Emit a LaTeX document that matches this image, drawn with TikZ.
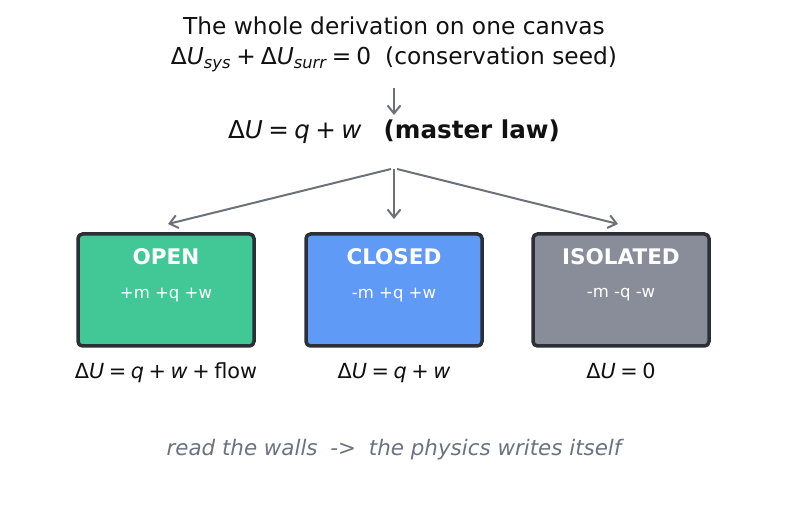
\documentclass[tikz,border=0pt]{standalone}
\usepackage{fontspec}
\setmainfont{DejaVu Sans}
\usetikzlibrary{arrows.meta}
\definecolor{arr}{HTML}{6E7179}
\definecolor{edge}{HTML}{2C3036}
\definecolor{gopen}{HTML}{41C896}
\definecolor{bclosed}{HTML}{5F9AF6}
\definecolor{giso}{HTML}{888D99}
\definecolor{foot}{HTML}{6B7280}
\definecolor{ink}{HTML}{111111}
\newcommand\vq[1]{\textit{#1}}
\newcommand\op[1]{\hspace{0.22em}#1\hspace{0.22em}}
\tikzset{
  conn/.style={draw=arr, line width=2pt, -{Straight Barb[length=8pt,width=13pt,line width=2pt]}},
  wallbox/.style={draw=edge, line width=3.5pt, rounded corners=4.5pt, minimum width=176pt, minimum height=112pt, inner sep=0pt},
  boxtitle/.style={text=white, font=\fontsize{21.5}{25}\selectfont\bfseries},
  boxsub/.style={text=white, font=\fontsize{16.5}{19}\selectfont},
  lbl/.style={text=ink, font=\fontsize{20.8}{24}\selectfont, anchor=base},
}
\begin{document}
\begin{tikzpicture}[x=1pt,y=-1pt]
\useasboundingbox[fill=white] (0,0) rectangle (787,510);
\node[text=ink, font=\fontsize{23.3}{27}\selectfont] (t1) at (394,26) {The whole derivation on one canvas};
\node[text=ink, font=\fontsize{23.3}{27}\selectfont] (t2) at (394,59) {Δ\vq{U}\textsubscript{\itshape sys}\op{+}Δ\vq{U}\textsubscript{\itshape surr}\op{=}0\hspace{0.6em}(conservation seed)};
\coordinate (s1) at (394,88);
\coordinate (e1) at (394,115);
\draw[conn] (s1) -- (e1);
\node[text=ink, font=\fontsize{24.6}{29}\selectfont] (law) at (394,132) {Δ\vq{U}\op{=}\vq{q}\op{+}\vq{w}\hspace{0.9em}\textbf{(master law)}};
\coordinate (fan) at (394,169);
\coordinate (fanl) at (391,169);
\coordinate (fanr) at (397,169);
\node[wallbox, fill=gopen] (open) at (166,290) {};
\node[wallbox, fill=bclosed] (closed) at (394,290) {};
\node[wallbox, fill=giso] (iso) at (621,290) {};
\coordinate (el) at (168,224);
\coordinate (ec) at (394,219);
\coordinate (er) at (618,224);
\draw[conn] (fanl) -- (el);
\draw[conn] (fan) -- (ec);
\draw[conn] (fanr) -- (er);
\node[boxtitle] (openT) at (166,257) {OPEN};
\node[boxsub] (openS) at (166,295) {+m +q +w};
\node[boxtitle] (closedT) at (394,257) {CLOSED};
\node[boxsub] (closedS) at (394,295) {-m +q +w};
\node[boxtitle] (isoT) at (621,257) {ISOLATED};
\node[boxsub] (isoS) at (621,295) {-m -q -w};
\node[lbl] (openL) at (166,378) {Δ\vq{U}\op{=}\vq{q}\op{+}\vq{w}\op{+}flow};
\node[lbl] (closedL) at (394,378) {Δ\vq{U}\op{=}\vq{q}\op{+}\vq{w}};
\node[lbl] (isoL) at (621,378) {Δ\vq{U}\op{=}0};
\node[text=foot, font=\fontsize{21.4}{25}\selectfont\itshape] (ft) at (394,450) {read the walls\hspace{0.6em}->\hspace{0.6em}the physics writes itself};
\end{tikzpicture}
\end{document}
